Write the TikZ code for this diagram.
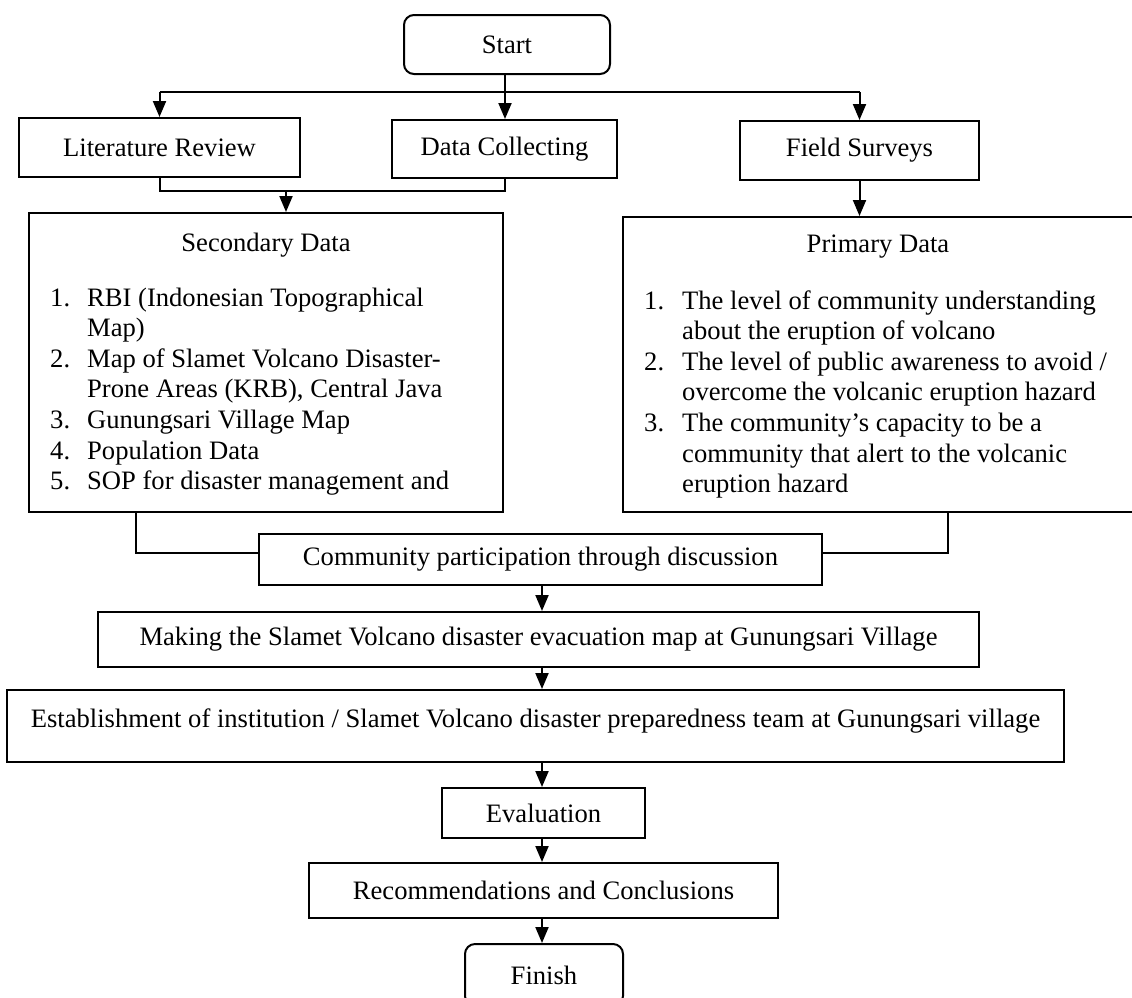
\documentclass[tikz,border=0pt]{standalone}
\usepackage{fontspec}
\setmainfont{Liberation Serif}
\usetikzlibrary{arrows.meta,calc}
\begin{document}
\begin{tikzpicture}[x=1pt,y=-1pt,
  box/.style={draw,line width=2pt,inner sep=0pt,rectangle},
  rbox/.style={box,rounded corners=10pt},
  arr/.style={line width=2pt,-{Triangle[length=16pt,width=13pt]}},
  ln/.style={line width=2pt},
  txt/.style={inner sep=0pt},
  every node/.style={font=\fontsize{26.6pt}{30.6pt}\selectfont}]
\useasboundingbox (0,0) rectangle (1132,997);
\fill[white] (0,0) rectangle (1132,997);

\node[rbox,minimum width=206pt,minimum height=59pt] (start) at (507,44.5) {Start};
\node[box,minimum width=281pt,minimum height=59pt] (lit) at (159.5,147.5) {Literature Review};
\node[box,minimum width=225pt,minimum height=58pt] (dc) at (504.5,149) {Data Collecting};
\node[box,minimum width=239pt,minimum height=59pt] (fs) at (859.5,150.5) {Field Surveys};
\node[box,minimum width=474pt,minimum height=299pt] (sec) at (266,362.5) {};
\node[box,minimum width=512pt,minimum height=295pt] (prim) at (879,364.5) {};
\node[box,minimum width=563pt,minimum height=51pt] (comm) at (540.5,559.5) {Community participation through discussion};
\node[box,minimum width=881pt,minimum height=55pt] (make) at (538.5,639.5) {Making the Slamet Volcano disaster evacuation map at Gunungsari Village};
\node[box,minimum width=1057pt,minimum height=72pt] (estab) at (535.5,726) {};
\node[txt,anchor=base] (estabt) at (535.5,727) {Establishment of institution / Slamet Volcano disaster preparedness team at Gunungsari village};
\node[box,minimum width=203pt,minimum height=50pt] (eval) at (543.5,813) {Evaluation};
\node[box,minimum width=469pt,minimum height=55pt] (rec) at (543.5,890.5) {Recommendations and Conclusions};
\node[rbox,minimum width=158pt,minimum height=62pt] (fin) at (544,975) {Finish};

\node[txt,anchor=base] (sect) at (266,251) {Secondary Data};
\node[txt,anchor=base] (primt) at (878,252) {Primary Data};

\node[txt,anchor=base west] (secl) at (50,306) {\begin{tabular}[t]{@{}p{37pt}@{}l@{}}
1. & RBI (Indonesian Topographical\\
   & Map)\\
2. & Map of Slamet Volcano Disaster-\\
   & Prone Areas (KRB), Central Java\\
3. & Gunungsari Village Map\\
4. & Population Data\\
5. & SOP for disaster management and
\end{tabular}};

\node[txt,anchor=base west] (priml) at (644,309) {\begin{tabular}[t]{@{}p{38pt}@{}l@{}}
1. & The level of community understanding\\
   & about the eruption of volcano\\
2. & The level of public awareness to avoid /\\
   & overcome the volcanic eruption hazard\\
3. & The community’s capacity to be a\\
   & community that alert to the volcanic\\
   & eruption hazard
\end{tabular}};

\coordinate (split) at (505,92);
\coordinate (join) at (286,191);
\coordinate (cl) at (136,553);
\coordinate (cr) at (948,553);
\coordinate (ax) at (542,0);

\draw[arr] (start.south -| split) -- (split |- dc.north);
\draw[ln] (lit.north |- split) -- (fs.north |- split);
\draw[arr] (lit.north |- split) -- (lit.north);
\draw[arr] (fs.north |- split) -- (fs.north);
\draw[ln] (lit.south) -- (lit.south |- join) -- (split |- join) -- (split |- dc.south);
\draw[arr] (join) -- (join |- sec.north);
\draw[arr] (fs.south) -- (fs.south |- prim.north);
\draw[ln] (cl |- sec.south) -- (cl) -- (cl -| comm.west);
\draw[ln] (cr |- prim.south) -- (cr) -- (cr -| comm.east);
\draw[arr] (ax |- comm.south) -- (ax |- make.north);
\draw[arr] (ax |- make.south) -- (ax |- estab.north);
\draw[arr] (ax |- estab.south) -- (ax |- eval.north);
\draw[arr] (ax |- eval.south) -- (ax |- rec.north);
\draw[arr] (ax |- rec.south) -- (ax |- fin.north);
\end{tikzpicture}
\end{document}
